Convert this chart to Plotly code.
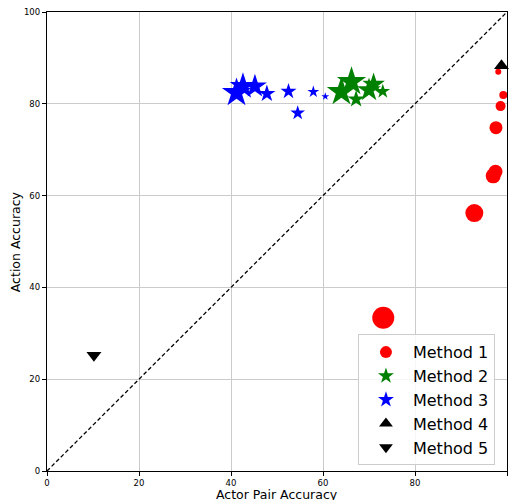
import plotly.graph_objects as go

# Method 1 (red circles)
m1_x = [98.1, 99.2, 98.6, 97.6, 97.0, 97.5, 92.9, 73.1]
m1_y = [87.0, 81.9, 79.5, 74.8, 64.3, 65.2, 56.2, 33.4]
m1_s = [6, 8, 10, 13, 15, 14, 18, 22]
# Method 2 (green stars)
m2_x = [64.0, 66.2, 67.2, 70.0, 71.0, 73.0]
m2_y = [82.6, 84.8, 81.0, 83.0, 84.2, 82.7]
m2_s = [22, 22, 13, 18, 17, 11]
# Method 3 (blue stars)
m3_x = [41.2, 42.6, 45.2, 47.8, 52.5, 54.5, 57.9, 60.5]
m3_y = [82.4, 83.8, 83.8, 82.2, 82.7, 78.0, 82.6, 81.6]
m3_s = [22, 20, 18, 13, 12, 11, 9, 6]
# Method 4 / 5 (black triangles)
m4_x = [98.8]
m4_y = [88.3]
m5_x = [10.2]
m5_y = [25.2]

diag = [0, 100]
xticks = [0, 20, 40, 60, 80, 100]
yticks = [0, 20, 40, 60, 80, 100]
x_title = "Actor Pair Accuracy"
y_title = "Action Accuracy"

fig = go.Figure()
fig.add_trace(go.Scatter(x=diag, y=diag, mode="lines", showlegend=False,
                         line=dict(color="black", width=1.3, dash="4px,2.5px"), hoverinfo="skip"))
fig.add_trace(go.Scatter(x=m1_x, y=m1_y, mode="markers", name="Method 1", cliponaxis=False,
                         marker=dict(symbol="circle", color="red", size=m1_s, opacity=1, line=dict(width=0))))
fig.add_trace(go.Scatter(x=m2_x, y=m2_y, mode="markers", name="Method 2", cliponaxis=False,
                         marker=dict(symbol="star", color="green", size=m2_s, opacity=1, line=dict(width=0))))
fig.add_trace(go.Scatter(x=m3_x, y=m3_y, mode="markers", name="Method 3", cliponaxis=False,
                         marker=dict(symbol="star", color="blue", size=m3_s, opacity=1, line=dict(width=0))))
fig.add_trace(go.Scatter(x=m4_x, y=m4_y, mode="markers", name="Method 4", cliponaxis=False,
                         marker=dict(symbol="triangle-up", color="black", size=13, opacity=1, line=dict(width=0))))
fig.add_trace(go.Scatter(x=m5_x, y=m5_y, mode="markers", name="Method 5", cliponaxis=False,
                         marker=dict(symbol="triangle-down", color="black", size=13, opacity=1, line=dict(width=0))))

axis_common = dict(range=[0, 100], showgrid=True, gridcolor="#cbcbcb", gridwidth=1, automargin=False,
                   zeroline=False, showline=True, linecolor="black", linewidth=1.2, mirror=True,
                   ticks="outside", ticklen=4, tickwidth=1, tickcolor="black",
                   tickfont=dict(family="DejaVu Sans", size=8.5, color="black"))
fig.update_xaxes(**axis_common, tickvals=xticks)
fig.update_yaxes(**axis_common, tickvals=yticks)

title_font = dict(family="DejaVu Sans", size=12.5, color="black")
fig.add_annotation(text=x_title, xref="paper", yref="paper", x=0.5, y=-0.051,
                   xanchor="center", yanchor="middle", showarrow=False, font=title_font)
fig.add_annotation(text=y_title, xref="paper", yref="paper", x=-0.068, y=0.5, textangle=-90,
                   xanchor="center", yanchor="middle", showarrow=False, font=title_font)

fig.update_layout(
    width=510, height=500,
    margin=dict(l=47, r=3, t=12, b=29, autoexpand=False),
    plot_bgcolor="white", paper_bgcolor="white",
    font=dict(family="DejaVu Sans"),
    legend=dict(x=0.676, y=0.298, xanchor="left", yanchor="top",
                font=dict(family="DejaVu Sans", size=16, color="black"),
                bgcolor="rgba(255,255,255,0.85)", bordercolor="#cccccc", borderwidth=1,
                itemsizing="constant", itemwidth=44),
    showlegend=True,
)

fig.write_html("out.html", config={"displayModeBar": False},
               post_script="document.body.style.margin='0';document.body.style.overflow='hidden';")
